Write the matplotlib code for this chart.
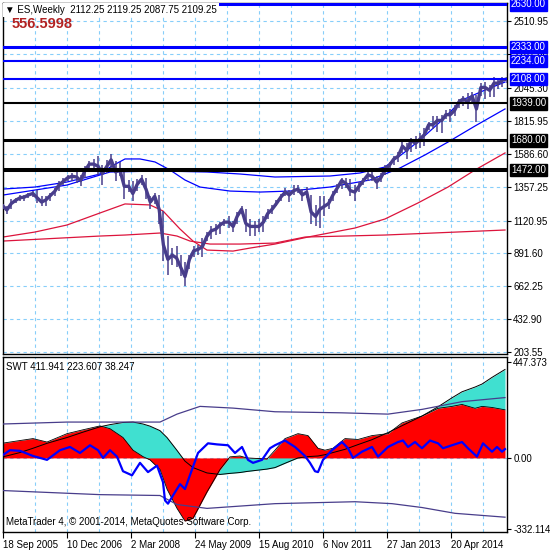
"""
ES weekly chart with SWT indicator (MetaTrader style)
"""
import numpy as np
import matplotlib.pyplot as plt
from matplotlib.transforms import blended_transform_factory

plt.rcParams['font.family'] = ['Liberation Sans', 'DejaVu Sans']

# ---------------- data ----------------
start = np.datetime64('2005-09-18')
months = np.arange('2005-09', '2015-06', dtype='datetime64[M]')

# price read per month: typical level, plus low / high spikes of the weekly bars
price_mid = [1225, 1195, 1240, 1262,
             1280, 1285, 1300, 1310, 1280, 1250, 1265, 1295, 1325, 1370, 1395, 1420,
             1430, 1425, 1400, 1470, 1515, 1515, 1500, 1450, 1500, 1545, 1460, 1475,
             1360, 1360, 1310, 1375, 1410, 1340, 1250, 1290, 1200, 950, 850, 880,
             860, 790, 730, 850, 910, 920, 940, 1010, 1050, 1060, 1090, 1110,
             1110, 1080, 1150, 1200, 1100, 1080, 1080, 1080, 1110, 1170, 1200, 1240,
             1285, 1320, 1300, 1330, 1340, 1300, 1320, 1180, 1150, 1200, 1220, 1240,
             1300, 1350, 1400, 1380, 1330, 1320, 1360, 1400, 1440, 1430, 1390, 1420,
             1480, 1510, 1550, 1570, 1640, 1610, 1680, 1660, 1690, 1720, 1790, 1790,
             1820, 1820, 1860, 1860, 1890, 1950, 1970, 1950, 1990, 1900, 2050, 2050,
             2030, 2080, 2080, 2100, 2110]
price_lo = [1200, 1170, 1205, 1245,
            1255, 1255, 1275, 1285, 1245, 1220, 1225, 1260, 1295, 1330, 1370, 1400,
            1400, 1380, 1360, 1420, 1480, 1480, 1440, 1370, 1450, 1480, 1400, 1430,
            1270, 1320, 1260, 1330, 1370, 1270, 1200, 1240, 1100, 840, 740, 810,
            800, 735, 666, 780, 870, 880, 870, 980, 990, 1020, 1030, 1085,
            1070, 1040, 1100, 1170, 1040, 1010, 1010, 1040, 1040, 1130, 1170, 1220,
            1260, 1290, 1250, 1300, 1310, 1260, 1280, 1100, 1080, 1070, 1150, 1200,
            1260, 1310, 1340, 1350, 1290, 1260, 1320, 1370, 1400, 1400, 1340, 1390,
            1440, 1480, 1510, 1530, 1590, 1550, 1600, 1620, 1630, 1640, 1750, 1760,
            1740, 1730, 1830, 1810, 1850, 1910, 1920, 1900, 1940, 1810, 1990, 1970,
            1980, 1980, 2040, 2050, 2080]
price_hi = [1240, 1225, 1270, 1280,
            1300, 1300, 1315, 1330, 1335, 1290, 1290, 1310, 1345, 1395, 1415, 1440,
            1450, 1470, 1440, 1500, 1540, 1550, 1570, 1510, 1545, 1585, 1540, 1530,
            1480, 1405, 1400, 1410, 1440, 1420, 1290, 1310, 1300, 1190, 1010, 930,
            945, 880, 830, 880, 940, 950, 1000, 1040, 1080, 1100, 1110, 1130,
            1150, 1115, 1180, 1220, 1200, 1130, 1120, 1130, 1150, 1200, 1230, 1265,
            1305, 1345, 1335, 1370, 1370, 1340, 1355, 1300, 1230, 1290, 1290, 1270,
            1330, 1375, 1420, 1420, 1410, 1370, 1390, 1420, 1470, 1465, 1430, 1450,
            1510, 1530, 1570, 1600, 1690, 1660, 1700, 1710, 1730, 1770, 1810, 1850,
            1850, 1860, 1890, 1900, 1930, 1970, 1990, 2010, 2020, 2000, 2080, 2090,
            2070, 2120, 2115, 2125, 2125]

# moving average lines (week index, price)
blue_slow_wk = [0, 32, 64, 97, 109, 122, 137, 152, 167, 182, 197, 227, 257, 287, 327, 367, 397, 422, 445, 472, 502]
blue_slow = [1341, 1355, 1390, 1446, 1502, 1551, 1551, 1530, 1474, 1404, 1355, 1327, 1320, 1327, 1355, 1404, 1488, 1579, 1669, 1781, 1900]
blue_fast_wk = [0, 32, 64, 97, 107, 157, 204, 237, 272, 327, 357, 382, 402, 417, 437, 459, 482, 502]
blue_fast = [1299, 1334, 1369, 1439, 1460, 1467, 1460, 1446, 1425, 1432, 1453, 1495, 1600, 1683, 1809, 1962, 2032, 2088]
red_fast_wk = [0, 32, 64, 97, 122, 147, 160, 177, 190, 204, 230, 247, 272, 305, 352, 382, 415, 445, 472, 502]
red_fast = [1006, 1041, 1090, 1174, 1237, 1230, 1188, 1062, 978, 915, 908, 929, 957, 1006, 1069, 1132, 1244, 1355, 1474, 1593]
red_slow_wk = [0, 97, 122, 157, 174, 187, 207, 237, 272, 302, 382, 502]
red_slow = [978, 1013, 1020, 1034, 1013, 978, 957, 957, 964, 1006, 1020, 1055]

levels = [2630.00, 2333.00, 2234.00, 2108.00, 1939.00, 1680.00, 1472.00]
level_colors = ['#0000FF', '#0000FF', '#0000FF', '#0000FF', 'black', 'black', 'black']
level_widths = [2.9, 2.2, 1.5, 1.5, 1.5, 2.2, 2.9]

price_ticks = [203.55, 432.90, 662.25, 891.60, 1120.95, 1357.25, 1586.60, 1815.95, 2045.30, 2281.60, 2510.95]

# SWT indicator (week index shared by main and signal buffers)
swt_wk = [0, 17, 30, 44, 64, 80, 97, 107, 120, 130, 140, 147, 157, 164, 174, 182, 190, 204, 217, 227,
          237, 244, 264, 272, 282, 295, 305, 315, 322, 330, 342, 355, 369, 385, 399, 419, 435, 449, 459,
          472, 479, 489, 502]
swt_main = [69, 81, 90, 74, 113, 131, 149, 136, 95, 36, 6, -9, -54, -145, -235, -294, -281, -158, -54, 5,
            9, 0, -5, 36, 90, 113, 104, 45, 36, 45, 90, 86, 104, 113, 163, 195, 231, 240, 249,
            231, 240, 235, 224]
swt_signal = [5, 25, 45, 68, 95, 120, 145, 155, 165, 167, 158, 148, 127, 95, 35, -15, -45, -70, -77, -72,
              -68, -63, -52, -45, -25, 0, 6, 9, 15, 25, 40, 62, 85, 118, 150, 195, 238, 280, 308,
              330, 344, 375, 412]

osc_wk = [0, 7, 17, 30, 44, 57, 67, 77, 87, 95, 100, 107, 114, 120, 129, 137, 145, 154, 160, 162, 165, 170,
          177, 182, 189, 195, 205, 214, 225, 232, 239, 245, 250, 259, 267, 272, 282, 292, 302, 307, 312, 315,
          320, 329, 339, 345, 350, 359, 369, 375, 385, 395, 400, 405, 412, 419, 427, 435, 440, 449, 459,
          465, 474, 480, 489, 494, 499, 502]
osc = [14, 36, 33, 9, -9, 36, 51, 23, 59, 36, 0, 36, 6, -62, -81, -23, -66, -36, -113, -198, -213, -175,
       -122, -145, -54, 23, 68, 63, 59, 23, 51, -9, -23, -9, 45, 59, 81, 51, 9, -23, -62, -66,
       -9, 36, 74, 45, 0, 29, 51, 6, 51, 74, 81, 51, 74, 45, 81, 68, 45, 59, 74,
       45, 6, 68, 29, 51, 29, 41]

band_up_wk = [0, 64, 157, 174, 197, 230, 272, 339, 385, 419, 459, 502]
band_up = [158, 167, 167, 204, 240, 232, 215, 210, 204, 226, 262, 281]
band_dn_wk = [0, 97, 157, 174, 204, 272, 352, 389, 419, 452, 502]
band_dn = [-152, -171, -175, -217, -235, -213, -204, -213, -231, -258, -276]

swt_ticks = [447.373, 0.0, -332.114]
swt_tick_labels = ['447.373', '0.00', '-332.114']

date_ticks = [0, 64, 128, 192, 256, 320, 384, 448]
date_labels = ['18 Sep 2005', '10 Dec 2006', '2 Mar 2008', '24 May 2009',
               '15 Aug 2010', '6 Nov 2011', '27 Jan 2013', '20 Apr 2014']
grid_weeks = list(range(32, 481, 32))

# ---------------- plot ----------------
GRID = '#87CEFA'
PRICE = '#483D8B'
fig = plt.figure(figsize=(5.5, 5.5), dpi=100)
ax = fig.add_axes([3 / 550, 196 / 550, 504 / 550, 351 / 550])
ax2 = fig.add_axes([3 / 550, 18 / 550, 504 / 550, 175 / 550])

month_wk = ((months.astype('datetime64[D]') + 14) - start).astype(float) / 7

for a in (ax, ax2):
    a.set_xlim(0, 504)
    for g in grid_weeks:
        a.axvline(g, color=GRID, lw=0.8, ls=(0, (3, 3)), zorder=0)
    for s in a.spines.values():
        s.set_color('black')
        s.set_linewidth(1)

# price pane
ax.set_ylim(189.6, 2639.6)
for t in price_ticks:
    ax.axhline(t, color=GRID, lw=0.8, ls=(0, (3, 3)), zorder=0)

ax.plot(red_slow_wk, red_slow, color='#DC143C', lw=0.9, zorder=2)
ax.plot(red_fast_wk, red_fast, color='#DC143C', lw=0.9, zorder=2)
ax.plot(blue_slow_wk, blue_slow, color='#0000FF', lw=0.9, zorder=2)
ax.plot(blue_fast_wk, blue_fast, color='#0000FF', lw=0.9, zorder=2)

ax.vlines(month_wk, price_lo, price_hi, color=PRICE, lw=1.1, zorder=3)
ax.plot(month_wk, price_mid, color=PRICE, lw=2.4, zorder=3)

for val, col, lw in zip(levels, level_colors, level_widths):
    ax.axhline(val, color=col, lw=lw, zorder=4)

ax.set_yticks(price_ticks)
ax.set_yticklabels([f'{t:.2f}' for t in price_ticks])
ax.tick_params(axis='y', left=False, right=True, labelleft=False, labelright=True,
               length=3, width=0.8, labelsize=7, pad=1.5)
ax.tick_params(axis='x', bottom=False, labelbottom=False)

trans = blended_transform_factory(ax.transAxes, ax.transData)
for val, col in zip(levels, level_colors):
    ax.text(1.008, val, f'{val:.2f}', transform=trans, color='white', fontsize=7,
            va='center', ha='left', clip_on=False, zorder=6,
            bbox=dict(boxstyle='square,pad=0.12', fc=col, ec=col))

# SWT pane
ax2.set_ylim(-345, 470)
ax2.axhline(0, color=GRID, lw=0.8, ls=(0, (3, 3)), zorder=0)
ax2.fill_between(swt_wk, swt_main, swt_signal, color='#40E0D0', lw=0, zorder=1)
ax2.fill_between(swt_wk, 0, swt_main, color='#FF0000', lw=0, zorder=2)
ax2.plot(swt_wk, swt_main, color='black', lw=0.6, zorder=3)
ax2.plot(swt_wk, swt_signal, color='black', lw=0.7, zorder=3)
ax2.plot(band_up_wk, band_up, color=PRICE, lw=0.9, zorder=3)
ax2.plot(band_dn_wk, band_dn, color=PRICE, lw=0.9, zorder=3)
ax2.plot(osc_wk, osc, color='#0000FF', lw=1.6, zorder=4)

ax2.set_yticks(swt_ticks)
ax2.set_yticklabels(swt_tick_labels)
ax2.tick_params(axis='y', left=False, right=True, labelleft=False, labelright=True,
                length=3, width=0.8, labelsize=7, pad=1.5)
ax2.set_xticks(date_ticks)
ax2.set_xticklabels(date_labels, ha='left')
ax2.tick_params(axis='x', length=4, width=0.8, labelsize=7, pad=1.5)

ax2.text(0.006, 0.97, 'SWT 411.941 223.607 38.247', transform=ax2.transAxes,
         fontsize=7, va='top', ha='left')
ax2.text(0.006, 0.03, 'MetaTrader 4, \u00a9 2001-2014, MetaQuotes Software Corp.',
         transform=ax2.transAxes, fontsize=7, va='bottom', ha='left', zorder=6)

# header
fig.text(5 / 550, 1 - 10 / 550, '\u25bc ES,Weekly  2112.25 2119.25 2087.75 2109.25',
         fontsize=7, va='center', ha='left',
         bbox=dict(boxstyle='square,pad=0.25', fc='white', ec='none'))
fig.text(12 / 550, 1 - 24 / 550, '556.5998', fontsize=10.5, fontweight='bold',
         color='#B22222', va='center', ha='left')

fig.savefig('out.png', dpi=100)
